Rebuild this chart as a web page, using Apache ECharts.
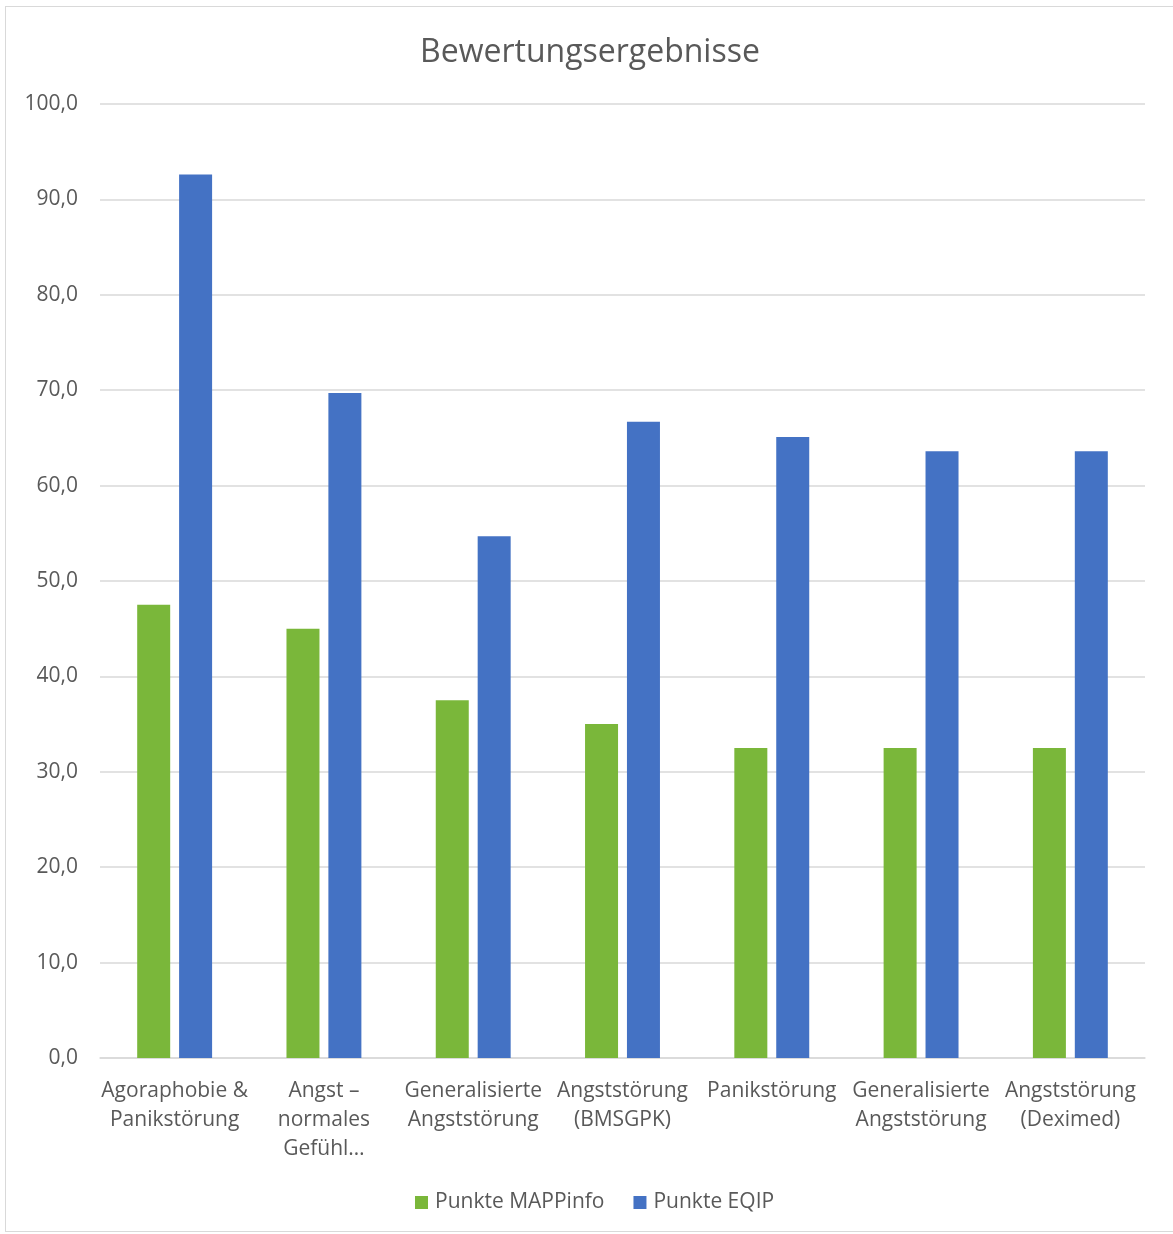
<!DOCTYPE html>
<html>
<head>
<meta charset="utf-8">
<script src="https://cdn.jsdelivr.net/npm/echarts@6/dist/echarts.min.js"></script>
<style>
html,body{margin:0;padding:0;background:#fff;}
#frame{position:absolute;left:5px;top:6px;width:1170px;height:1226px;border:1px solid #d9d9d9;box-sizing:border-box;}
#chart{position:absolute;left:0;top:0;width:1173px;height:1234px;}
</style>
</head>
<body>
<div id="frame"></div>
<div id="chart"></div>
<script>
const categories = [
  "Agoraphobie &\nPanikstörung",
  "Angst –\nnormales\nGefühl…",
  "Generalisierte\nAngststörung",
  "Angststörung\n(BMSGPK)",
  "Panikstörung",
  "Generalisierte\nAngststörung",
  "Angststörung\n(Deximed)"
];
const mappinfo = [47.5, 45.0, 37.5, 35.0, 32.5, 32.5, 32.5];
const eqip = [92.6, 69.7, 54.7, 66.7, 65.1, 63.6, 63.6];
const seriesNames = ["Punkte MAPPinfo", "Punkte EQIP"];
const titleText = "Bewertungsergebnisse";

const FONT = "Open Sans";
const chart = echarts.init(document.getElementById('chart'), null, {renderer: 'canvas'});
chart.setOption({
  backgroundColor: 'transparent',
  animation: false,
  title: {
    text: titleText,
    left: 415,
    top: 32,
    textStyle: {fontFamily: FONT, fontSize: 32, fontWeight: 'normal', color: '#595959'}
  },
  legend: {
    bottom: 16,
    left: 410,
    itemWidth: 13,
    itemHeight: 13,
    itemGap: 29,
    icon: 'rect',
    textStyle: {fontFamily: FONT, fontSize: 21, color: '#595959', padding: [0,0,0,2]},
    data: seriesNames
  },
  grid: {left: 100, right: 28, top: 104, bottom: 176, containLabel: false},
  xAxis: {
    type: 'category',
    data: categories,
    axisTick: {show: false},
    axisLine: {lineStyle: {color: '#d9d9d9', width: 1.5}},
    axisLabel: {
      interval: 0,
      margin: 19,
      fontFamily: FONT, fontSize: 21, color: '#595959', lineHeight: 29,
      verticalAlign: 'top'
    }
  },
  yAxis: {
    type: 'value',
    min: 0, max: 100, interval: 10,
    axisLine: {show: false},
    axisTick: {show: false},
    splitLine: {lineStyle: {color: '#d9d9d9', width: 1.5}},
    axisLabel: {
      margin: 22,
      fontFamily: FONT, fontSize: 21, color: '#595959',
      formatter: v => v.toFixed(1).replace('.', ',')
    }
  },
  series: [
    {name: seriesNames[0], type: 'bar', data: mappinfo, barWidth: 33, barGap: '27%',
     itemStyle: {color: '#7ab73a'}},
    {name: seriesNames[1], type: 'bar', data: eqip, barWidth: 33, barGap: '27%',
     itemStyle: {color: '#4472c4'}}
  ]
});
</script>
</body>
</html>
